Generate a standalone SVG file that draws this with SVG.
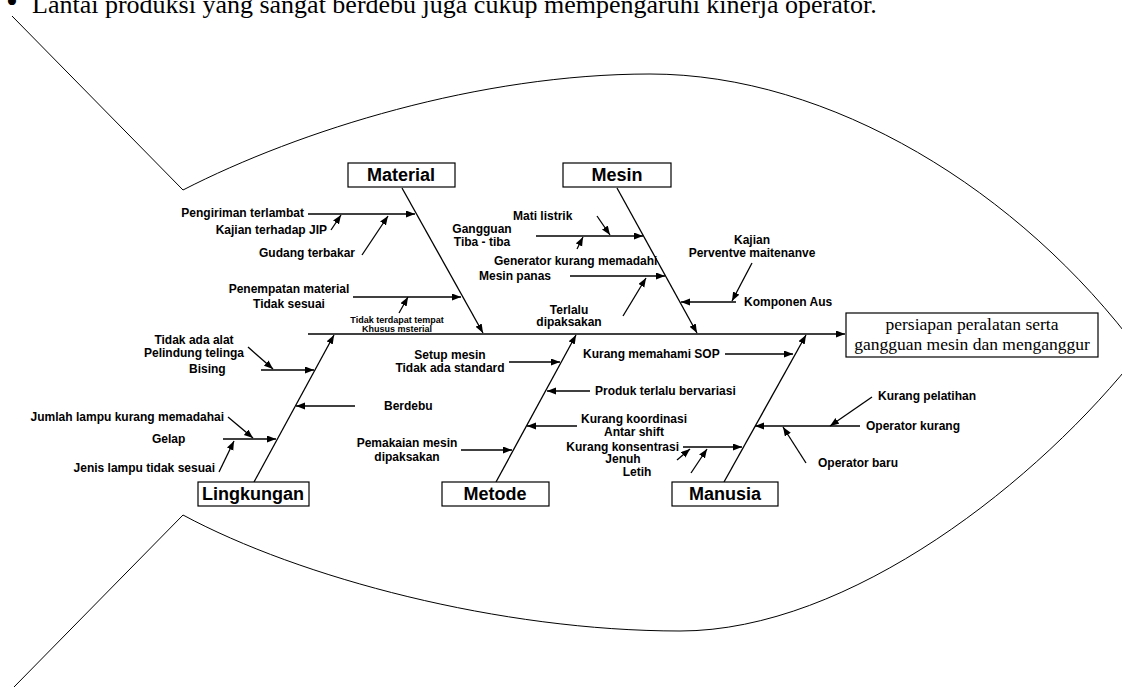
<svg xmlns="http://www.w3.org/2000/svg" width="1122" height="687" viewBox="0 0 1122 687">
<style>
.lbl{font-family:"Liberation Sans",Arial,sans-serif;font-weight:bold;font-size:12px;fill:#000}
.sm{font-family:"Liberation Sans",Arial,sans-serif;font-weight:bold;font-size:9px;fill:#000}
.cat{font-family:"Liberation Sans",Arial,sans-serif;font-weight:bold;font-size:18px;fill:#000;text-anchor:middle}
.box{fill:#fff;stroke:#000;stroke-width:1.2}
.ln{stroke:#000;stroke-width:1.3;fill:none}
.arr{stroke:#000;stroke-width:1.3;fill:none;marker-end:url(#ah)}
.fish{stroke:#000;stroke-width:1;fill:none}
.mid{text-anchor:middle}
.end{text-anchor:end}
</style>
<defs>
<marker id="ah" markerUnits="userSpaceOnUse" markerWidth="10" markerHeight="8" refX="9" refY="3.5" orient="auto">
<path d="M0,0 L9,3.5 L0,7 z" fill="#000"/>
</marker>
</defs>
<rect width="1122" height="687" fill="#fff"/>
<g id="header">
<text x="6" y="13" font-family="Liberation Serif,Times New Roman,serif" font-size="34" fill="#000">•</text>
<text x="32" y="13" font-family="Liberation Serif,Times New Roman,serif" font-size="26" fill="#000">Lantai produksi yang sangat berdebu juga cukup mempengaruhi kinerja operator.</text>
</g>
<g id="fish-outline">
<path class="fish" d="M12,16 L183,190 C300,130 480,74 650,74 C830,74 1020,190 1140,352"/>
<path class="fish" d="M14,687 L183,515 C300,578 500,631 680,631 C850,631 1040,480 1140,352"/>
</g>
<g id="connectors">
<path class="arr" d="M308,334 L845,334"/>
<path class="arr" d="M402,188 L483,333"/>
<path class="arr" d="M617,188 L697,333"/>
<path class="arr" d="M254,482 L334,335"/>
<path class="arr" d="M496,482 L576,335"/>
<path class="arr" d="M724,482 L806,335"/>
<!-- Material -->
<path class="arr" d="M308,214 L415,214"/>
<path class="arr" d="M331,230 L341,215"/>
<path class="arr" d="M362,255 L388,216"/>
<path class="arr" d="M353,297 L461,297"/>
<path class="arr" d="M399,313 L408,297"/>
<!-- Mesin -->
<path class="arr" d="M597,216 L610,235"/>
<path class="arr" d="M536,236 L643,236"/>
<path class="arr" d="M577,249 L583,237"/>
<path class="arr" d="M570,276 L665,276"/>
<path class="arr" d="M623,316 L646,278"/>
<path class="arr" d="M752,263 L732,301"/>
<path class="arr" d="M736,302 L681,302"/>
<!-- Lingkungan -->
<path class="arr" d="M261,370 L314,370"/>
<path class="arr" d="M248,347 L273,369"/>
<path class="arr" d="M355,406 L296,406"/>
<path class="arr" d="M228,417 L253,438"/>
<path class="arr" d="M223,439 L276,439"/>
<path class="arr" d="M219,472 L234,441"/>
<!-- Metode -->
<path class="arr" d="M509,362 L560,362"/>
<path class="arr" d="M590,391 L547,391"/>
<path class="arr" d="M577,426 L527,426"/>
<path class="arr" d="M461,450 L512,450"/>
<!-- Manusia -->
<path class="arr" d="M725,354 L793,354"/>
<path class="arr" d="M683,447 L742,447"/>
<path class="arr" d="M677,460 L690,449"/>
<path class="arr" d="M691,473 L707,449"/>
<path class="arr" d="M872,397 L830,426"/>
<path class="arr" d="M860,426 L755,426"/>
<path class="arr" d="M806,463 L783,427"/>
</g>
<g id="effect">
<rect class="box" x="846" y="313" width="252" height="44"/>
<text x="972" y="330" font-family="Liberation Serif,Times New Roman,serif" font-size="17.5" text-anchor="middle" fill="#000">persiapan peralatan serta</text>
<text x="972" y="350" font-family="Liberation Serif,Times New Roman,serif" font-size="17.5" text-anchor="middle" fill="#000">gangguan mesin dan menganggur</text>
</g>
<g id="material">
<rect class="box" x="348" y="163" width="107" height="24"/>
<text class="cat" x="401" y="181">Material</text>
<text class="lbl end" x="304" y="217">Pengiriman terlambat</text>
<text class="lbl end" x="327" y="234">Kajian terhadap JIP</text>
<text class="lbl end" x="355" y="257">Gudang terbakar</text>
<text class="lbl mid" x="289" y="293">Penempatan material</text>
<text class="lbl mid" x="289" y="308">Tidak sesuai</text>
<text class="sm mid" x="397" y="323">Tidak terdapat tempat</text>
<text class="sm mid" x="397" y="332">Khusus msterial</text>
</g>
<g id="mesin">
<rect class="box" x="563" y="163" width="108" height="24"/>
<text class="cat" x="617" y="181">Mesin</text>
<text class="lbl" x="513" y="220">Mati listrik</text>
<text class="lbl mid" x="482" y="233">Gangguan</text>
<text class="lbl mid" x="482" y="246">Tiba - tiba</text>
<text class="lbl" x="494" y="265">Generator kurang memadahi</text>
<text class="lbl" x="479" y="280">Mesin panas</text>
<text class="lbl mid" x="569" y="314">Terlalu</text>
<text class="lbl mid" x="569" y="326">dipaksakan</text>
<text class="lbl mid" x="752" y="244">Kajian</text>
<text class="lbl mid" x="752" y="257">Perventve maitenanve</text>
<text class="lbl" x="744" y="306">Komponen Aus</text>
</g>
<g id="lingkungan">
<rect class="box" x="198" y="482" width="111" height="24"/>
<text class="cat" x="253" y="500">Lingkungan</text>
<text class="lbl mid" x="194" y="344">Tidak ada alat</text>
<text class="lbl mid" x="194" y="357">Pelindung telinga</text>
<text class="lbl" x="189" y="373">Bising</text>
<text class="lbl" x="384" y="410">Berdebu</text>
<text class="lbl end" x="224" y="421">Jumlah lampu kurang memadahai</text>
<text class="lbl" x="152" y="443">Gelap</text>
<text class="lbl end" x="215" y="472">Jenis lampu tidak sesuai</text>
</g>
<g id="metode">
<rect class="box" x="442" y="482" width="107" height="24"/>
<text class="cat" x="495" y="500">Metode</text>
<text class="lbl mid" x="450" y="359">Setup mesin</text>
<text class="lbl mid" x="450" y="372">Tidak ada standard</text>
<text class="lbl" x="595" y="395">Produk terlalu bervariasi</text>
<text class="lbl mid" x="634" y="423">Kurang koordinasi</text>
<text class="lbl mid" x="634" y="436">Antar shift</text>
<text class="lbl mid" x="407" y="447">Pemakaian mesin</text>
<text class="lbl mid" x="407" y="461">dipaksakan</text>
</g>
<g id="manusia">
<rect class="box" x="672" y="482" width="106" height="24"/>
<text class="cat" x="725" y="500">Manusia</text>
<text class="lbl" x="583" y="358">Kurang memahami SOP</text>
<text class="lbl end" x="679" y="451">Kurang konsentrasi</text>
<text class="lbl mid" x="623" y="463">Jenuh</text>
<text class="lbl mid" x="637" y="476">Letih</text>
<text class="lbl" x="878" y="400">Kurang pelatihan</text>
<text class="lbl" x="866" y="430">Operator kurang</text>
<text class="lbl" x="818" y="467">Operator baru</text>
</g>
</svg>
